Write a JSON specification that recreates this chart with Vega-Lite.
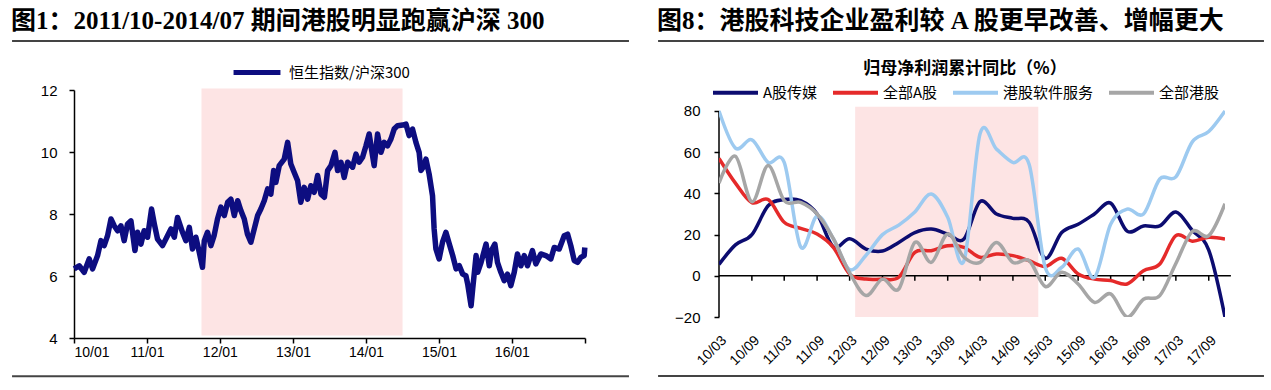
{
  "$schema": "https://vega.github.io/schema/vega-lite/v6.json",
  "background": "white",
  "padding": {"left": 11, "right": 10, "top": 8, "bottom": 12},
  "spacing": 27,
  "resolve": {"scale": {"color": "independent"}, "legend": {"color": "independent"}},
  "config": {
    "view": {"stroke": null},
    "axis": {"labelFont": "Liberation Sans", "labelFontSize": 14, "labelColor": "#000", "domainColor": "#000", "tickColor": "#000", "domainWidth": 1.5, "tickWidth": 1.5, "tickSize": 5, "grid": false, "labelOverlap": false},
    "axisX": {"labelOverlap": false},
    "title": {"font": "Liberation Serif, Noto Sans CJK SC", "fontSize": 25, "fontWeight": "bold", "color": "#000", "anchor": "start", "offset": 6}
  },
  "datasets": {
    "hs": [
      {"d":"2010-01-02","v":6.23},{"d":"2010-01-27","v":6.33},{"d":"2010-02-21","v":6.12},{"d":"2010-03-18","v":6.55},{"d":"2010-04-04","v":6.23},{"d":"2010-04-29","v":6.66},{"d":"2010-05-16","v":7.14},{"d":"2010-06-01","v":6.98},{"d":"2010-06-18","v":7.3},{"d":"2010-07-05","v":7.84},{"d":"2010-07-21","v":7.62},{"d":"2010-08-07","v":7.46},{"d":"2010-08-24","v":7.62},{"d":"2010-09-09","v":7.14},{"d":"2010-09-26","v":7.68},{"d":"2010-10-13","v":7.78},{"d":"2010-11-02","v":6.82},{"d":"2010-11-15","v":7.41},{"d":"2010-12-02","v":7.03},{"d":"2010-12-18","v":7.46},
      {"d":"2011-01-04","v":7.25},{"d":"2011-01-24","v":8.16},{"d":"2011-02-07","v":7.68},{"d":"2011-02-23","v":7.19},{"d":"2011-03-20","v":6.98},{"d":"2011-04-14","v":7.3},{"d":"2011-05-01","v":7.52},{"d":"2011-05-18","v":7.25},{"d":"2011-06-03","v":7.89},{"d":"2011-06-28","v":7.41},{"d":"2011-07-15","v":7.14},{"d":"2011-08-01","v":7.57},{"d":"2011-08-17","v":6.87},{"d":"2011-09-03","v":7.25},{"d":"2011-09-20","v":6.76},{"d":"2011-10-06","v":6.28},{"d":"2011-10-15","v":7.14},{"d":"2011-10-31","v":7.41},{"d":"2011-11-17","v":6.98},{"d":"2011-12-03","v":7.3},{"d":"2011-12-20","v":7.84},
      {"d":"2012-01-06","v":8.22},{"d":"2012-01-23","v":7.95},{"d":"2012-02-09","v":8.38},{"d":"2012-02-25","v":8.48},{"d":"2012-03-13","v":7.95},{"d":"2012-03-30","v":8.43},{"d":"2012-04-15","v":8.11},{"d":"2012-05-02","v":7.84},{"d":"2012-05-18","v":7.35},{"d":"2012-06-04","v":7.09},{"d":"2012-06-21","v":7.52},{"d":"2012-07-08","v":7.95},{"d":"2012-07-24","v":8.16},{"d":"2012-08-10","v":8.43},{"d":"2012-08-27","v":8.81},{"d":"2012-09-12","v":8.64},{"d":"2012-09-26","v":9.4},{"d":"2012-10-07","v":9.02},{"d":"2012-10-24","v":9.56},{"d":"2012-11-18","v":9.77},{"d":"2012-12-05","v":10.31},{"d":"2012-12-21","v":9.61},
      {"d":"2013-01-07","v":9.34},{"d":"2013-01-24","v":9.07},{"d":"2013-02-09","v":8.38},{"d":"2013-02-26","v":8.86},{"d":"2013-03-15","v":8.48},{"d":"2013-03-31","v":8.91},{"d":"2013-04-17","v":8.7},{"d":"2013-05-04","v":9.24},{"d":"2013-05-21","v":8.64},{"d":"2013-06-07","v":8.54},{"d":"2013-06-23","v":9.4},{"d":"2013-07-10","v":9.56},{"d":"2013-07-30","v":9.99},{"d":"2013-08-12","v":9.4},{"d":"2013-08-29","v":9.67},{"d":"2013-09-14","v":9.18},{"d":"2013-10-01","v":9.67},{"d":"2013-10-26","v":9.51},{"d":"2013-11-12","v":9.93},{"d":"2013-11-28","v":9.67},{"d":"2013-12-15","v":9.83},
      {"d":"2014-01-01","v":10.2},{"d":"2014-01-17","v":10.58},{"d":"2014-02-03","v":9.88},{"d":"2014-02-11","v":9.56},{"d":"2014-02-28","v":10.58},{"d":"2014-03-17","v":9.99},{"d":"2014-04-02","v":10.31},{"d":"2014-04-19","v":10.2},{"d":"2014-05-06","v":10.42},{"d":"2014-05-22","v":10.74},{"d":"2014-06-08","v":10.85},{"d":"2014-07-03","v":10.87},{"d":"2014-07-20","v":10.9},{"d":"2014-08-05","v":10.53},{"d":"2014-08-22","v":10.74},{"d":"2014-09-08","v":10.31},{"d":"2014-09-24","v":9.99},{"d":"2014-10-03","v":9.4},{"d":"2014-10-19","v":9.56},{"d":"2014-10-28","v":9.77},{"d":"2014-11-13","v":9.29},{"d":"2014-11-30","v":8.59},{"d":"2014-12-08","v":7.52},{"d":"2014-12-17","v":6.87},
      {"d":"2015-01-02","v":6.55},{"d":"2015-01-19","v":7.09},{"d":"2015-02-05","v":7.41},{"d":"2015-02-22","v":7.03},{"d":"2015-03-11","v":6.66},{"d":"2015-03-28","v":6.23},{"d":"2015-04-13","v":6.33},{"d":"2015-04-30","v":6.06},{"d":"2015-05-16","v":6.01},{"d":"2015-05-25","v":5.74},{"d":"2015-06-11","v":5.04},{"d":"2015-06-19","v":5.58},{"d":"2015-07-06","v":6.66},{"d":"2015-07-14","v":6.12},{"d":"2015-07-31","v":6.44},{"d":"2015-08-25","v":7.03},{"d":"2015-09-10","v":6.33},{"d":"2015-09-21","v":6.82},{"d":"2015-10-08","v":7.03},{"d":"2015-10-21","v":6.44},{"d":"2015-11-07","v":6.12},{"d":"2015-11-24","v":5.85},{"d":"2015-12-10","v":6.06},{"d":"2015-12-27","v":5.69},
      {"d":"2016-01-13","v":6.12},{"d":"2016-01-29","v":6.71},{"d":"2016-02-15","v":6.33},{"d":"2016-03-03","v":6.66},{"d":"2016-03-19","v":6.33},{"d":"2016-04-13","v":6.82},{"d":"2016-04-30","v":6.39},{"d":"2016-05-25","v":6.71},{"d":"2016-06-19","v":6.66},{"d":"2016-07-14","v":6.55},{"d":"2016-07-31","v":6.92},{"d":"2016-08-25","v":6.87},{"d":"2016-09-19","v":7.3},{"d":"2016-10-06","v":7.35},{"d":"2016-10-22","v":6.98},{"d":"2016-11-08","v":6.5},{"d":"2016-11-25","v":6.44},{"d":"2016-12-11","v":6.6},{"d":"2016-12-28","v":6.66},{"d":"2016-12-31","v":6.92}
    ],
    "rows": [
      {"q":"2010-03-01","A股传媒":5.5,"全部A股":57,"港股软件服务":80,"全部港股":45},
      {"q":"2010-06-01","A股传媒":15,"全部A股":45,"港股软件服务":62,"全部港股":58},
      {"q":"2010-09-01","A股传媒":20,"全部A股":35.5,"港股软件服务":66,"全部港股":36},
      {"q":"2010-12-01","A股传媒":34,"全部A股":37,"港股软件服务":55,"全部港股":53.5},
      {"q":"2011-03-01","A股传媒":37,"全部A股":26,"港股软件服务":55,"全部港股":36.5},
      {"q":"2011-06-01","A股传媒":36.5,"全部A股":23,"港股软件服务":14,"全部港股":35.6},
      {"q":"2011-09-01","A股传媒":30,"全部A股":20.3,"港股软件服务":29,"全部港股":30},
      {"q":"2011-12-01","A股传媒":14,"全部A股":13.8,"港股软件服务":18,"全部港股":18},
      {"q":"2012-03-01","A股传媒":18,"全部A股":0.9,"港股软件服务":3,"全部港股":1.5},
      {"q":"2012-06-01","A股传媒":13,"全部A股":-1.6,"港股软件服务":10,"全部港股":-9.6},
      {"q":"2012-09-01","A股传媒":12,"全部A股":-1.6,"港股软件服务":20,"全部港股":-1.6},
      {"q":"2012-12-01","A股传媒":16.2,"全部A股":-0.7,"港股软件服务":24.6,"全部港股":-6.4},
      {"q":"2013-03-01","A股传媒":21,"全部A股":11.4,"港股软件服务":31,"全部港股":16.2},
      {"q":"2013-06-01","A股传媒":22.7,"全部A股":12.2,"港股软件服务":39.7,"全部港股":6.5},
      {"q":"2013-09-01","A股传媒":20.3,"全部A股":14.6,"港股软件服务":28.4,"全部港股":20.3},
      {"q":"2013-12-01","A股传媒":17.9,"全部A股":13.8,"港股软件服务":7.3,"全部港股":9},
      {"q":"2014-03-01","A股传媒":36,"全部A股":9,"港股软件服务":69,"全部港股":6.5},
      {"q":"2014-06-01","A股传媒":30,"全部A股":10.6,"港股软件服务":61.5,"全部港股":16.2},
      {"q":"2014-09-01","A股传媒":27.9,"全部A股":9.8,"港股软件服务":55,"全部港股":6.5},
      {"q":"2014-12-01","A股传媒":26,"全部A股":7.3,"港股软件服务":54,"全部港股":7.3},
      {"q":"2015-03-01","A股传媒":8.5,"全部A股":4.5,"港股软件服务":4,"全部港股":-5.2},
      {"q":"2015-06-01","A股传媒":21,"全部A股":8.5,"港股软件服务":4.1,"全部港股":1.7},
      {"q":"2015-09-01","A股传媒":25,"全部A股":0.9,"港股软件服务":13,"全部港股":-4},
      {"q":"2015-12-01","A股传媒":30,"全部A股":-1.6,"港股软件服务":-0.8,"全部港股":-12.9},
      {"q":"2016-03-01","A股传媒":35.3,"全部A股":-2.3,"港股软件服务":25,"全部港股":-8.8},
      {"q":"2016-06-01","A股传媒":21.7,"全部A股":-4,"港股软件服务":32.4,"全部港股":-20},
      {"q":"2016-09-01","A股传媒":24.2,"全部A股":2.5,"港股软件服务":30,"全部港股":-11.4},
      {"q":"2016-12-01","A股传媒":24.2,"全部A股":5.7,"港股软件服务":47,"全部港股":-9.6},
      {"q":"2017-03-01","A股传媒":31,"全部A股":19.5,"港股软件服务":48,"全部港股":6},
      {"q":"2017-06-01","A股传媒":22,"全部A股":16.8,"港股软件服务":65,"全部港股":21.5},
      {"q":"2017-09-01","A股传媒":12.5,"全部A股":18.7,"港股软件服务":70,"全部港股":19.5},
      {"q":"2017-12-01","A股传媒":-20,"全部A股":17.9,"港股软件服务":80,"全部港股":35}
    ],
    "ticks": [
      {"q":"2010-09-01"},{"q":"2011-03-01"},{"q":"2011-09-01"},{"q":"2012-03-01"},{"q":"2012-09-01"},{"q":"2013-03-01"},{"q":"2013-09-01"},{"q":"2014-03-01"},{"q":"2014-09-01"},{"q":"2015-03-01"},{"q":"2015-09-01"},{"q":"2016-03-01"},{"q":"2016-09-01"},{"q":"2017-03-01"},{"q":"2017-09-01"}
    ]
  },
  "hconcat": [
    {
      "width": 511,
      "height": 248,
      "title": {"text": "图1：2011/10-2014/07 期间港股明显跑赢沪深 300"},
      "encoding": {
        "x": {"field": "d", "type": "temporal", "title": null,
          "scale": {"type": "utc", "domain": [{"year": 2010, "month": 1, "date": 1, "utc": true}, {"year": 2017, "month": 1, "date": 1, "utc": true}]},
          "axis": {"values": [{"year": 2010, "month": 1, "date": 1, "utc": true}, {"year": 2011, "month": 1, "date": 1, "utc": true}, {"year": 2012, "month": 1, "date": 1, "utc": true}, {"year": 2013, "month": 1, "date": 1, "utc": true}, {"year": 2014, "month": 1, "date": 1, "utc": true}, {"year": 2015, "month": 1, "date": 1, "utc": true}, {"year": 2016, "month": 1, "date": 1, "utc": true}, {"year": 2017, "month": 1, "date": 1, "utc": true}],
            "labelExpr": "utcyear(datum.value) == 2017 ? '' : utcFormat(datum.value, '%y/%m')", "labelPadding": 2, "labelFontSize": 14, "labelOverlap": false}}
      },
      "layer": [
        {
          "data": {"values": [{"d": "2011-10-01", "e": "2014-07-03"}]},
          "mark": {"type": "rect", "color": "#fde4e4"},
          "encoding": {
            "x2": {"field": "e"},
            "y": {"datum": 4.08, "type": "quantitative", "scale": {"domain": [4, 12], "nice": false, "zero": false}, "title": null},
            "y2": {"datum": 12.05}
          }
        },
        {
          "data": {"name": "hs"},
          "mark": {"type": "line", "strokeWidth": 5.5, "strokeJoin": "round"},
          "encoding": {
            "y": {"field": "v", "type": "quantitative", "scale": {"domain": [4, 12], "nice": false, "zero": false}, "title": null,
              "axis": {"values": [4, 6, 8, 10, 12], "labelPadding": 12, "labelFontSize": 15}},
            "color": {"datum": "恒生指数/沪深300", "type": "nominal", "scale": {"range": ["#0d0d80"]},
              "legend": {"orient": "none", "legendX": 157, "legendY": -43.5, "direction": "horizontal", "title": null, "symbolType": "stroke", "symbolStrokeWidth": 5, "symbolSize": 2200, "labelFont": "Noto Sans CJK SC", "labelFontSize": 15, "labelColor": "#000", "padding": 0, "labelOffset": 6}}
          }
        },
        {
          "data": {"values": [{"d": "2009-02-25", "e": "2017-08-09"}]},
          "mark": {"type": "rule", "clip": false, "color": "#444", "strokeWidth": 2},
          "encoding": {"x2": {"field": "e"}, "y": {"datum": 13.58, "type": "quantitative"}}
        },
        {
          "data": {"values": [{"d": "2009-02-25", "e": "2017-08-09"}]},
          "mark": {"type": "rule", "clip": false, "color": "#444", "strokeWidth": 2},
          "encoding": {"x2": {"field": "e"}, "y": {"datum": 2.77, "type": "quantitative"}}
        }
      ]
    },
    {
      "width": 506,
      "height": 227,
      "title": {"text": "图8：港股科技企业盈利较 A 股更早改善、增幅更大"},
      "encoding": {
        "x": {"field": "q", "type": "temporal", "title": null,
          "scale": {"type": "utc", "domain": [{"year": 2010, "month": 3, "date": 1, "utc": true}, {"year": 2017, "month": 12, "date": 1, "utc": true}]},
          "axis": {"values": [{"year": 2010, "month": 3, "date": 1, "utc": true}, {"year": 2010, "month": 9, "date": 1, "utc": true}, {"year": 2011, "month": 3, "date": 1, "utc": true}, {"year": 2011, "month": 9, "date": 1, "utc": true}, {"year": 2012, "month": 3, "date": 1, "utc": true}, {"year": 2012, "month": 9, "date": 1, "utc": true}, {"year": 2013, "month": 3, "date": 1, "utc": true}, {"year": 2013, "month": 9, "date": 1, "utc": true}, {"year": 2014, "month": 3, "date": 1, "utc": true}, {"year": 2014, "month": 9, "date": 1, "utc": true}, {"year": 2015, "month": 3, "date": 1, "utc": true}, {"year": 2015, "month": 9, "date": 1, "utc": true}, {"year": 2016, "month": 3, "date": 1, "utc": true}, {"year": 2016, "month": 9, "date": 1, "utc": true}, {"year": 2017, "month": 3, "date": 1, "utc": true}, {"year": 2017, "month": 9, "date": 1, "utc": true}],
            "labelExpr": "utcFormat(datum.value, '%y/%m')", "labelAngle": -45, "domain": false, "ticks": false, "labelPadding": 16, "labelFontSize": 14, "labelOverlap": false}}
      },
      "layer": [
        {
          "data": {"values": [{"q": "2012-04-01", "e": "2015-01-21"}]},
          "mark": {"type": "rect", "color": "#fde4e4"},
          "encoding": {
            "x2": {"field": "e"},
            "y": {"datum": -20, "type": "quantitative", "scale": {"domain": [-20, 90.19], "nice": false, "zero": false}, "title": null},
            "y2": {"datum": 82}
          }
        },
        {
          "data": {"values": [{"q": "2010-03-01", "e": "2018-01-03"}]},
          "mark": {"type": "rule", "clip": false, "color": "#000", "strokeWidth": 1.5},
          "encoding": {"x2": {"field": "e"}, "y": {"datum": 0, "type": "quantitative"}}
        },
        {
          "data": {"name": "ticks"},
          "mark": {"type": "rule", "clip": false, "color": "#000", "strokeWidth": 1.5},
          "encoding": {"y": {"datum": 0, "type": "quantitative"}, "y2": {"datum": -2.4}}
        },
        {
          "data": {"values": [{"q": "2010-03-01"}]},
          "mark": {"type": "rule", "clip": false, "color": "#000", "strokeWidth": 1.5},
          "encoding": {"y": {"datum": -20, "type": "quantitative"}, "y2": {"datum": 80}}
        },
        {
          "data": {"name": "rows"},
          "transform": [{"fold": ["A股传媒", "全部A股", "港股软件服务", "全部港股"], "as": ["s", "v"]}],
          "mark": {"type": "line", "strokeWidth": 3.5, "interpolate": "cardinal", "clip": true},
          "encoding": {
            "y": {"field": "v", "type": "quantitative", "scale": {"domain": [-20, 90.19], "nice": false, "zero": false}, "title": null,
              "axis": {"values": [-20, 0, 20, 40, 60, 80], "domain": false, "labelPadding": 14, "labelFontSize": 15}},
            "color": {"field": "s", "type": "nominal",
              "scale": {"domain": ["A股传媒", "全部A股", "港股软件服务", "全部港股"], "range": ["#0c0c70", "#e52a2a", "#9dcaf0", "#a6a6a6"]},
              "legend": {"orient": "none", "legendX": -8, "legendY": -29, "direction": "horizontal", "title": "归母净利润累计同比（%）", "titleFont": "Noto Sans CJK SC", "titleFontSize": 17, "titleFontWeight": "bold", "titleColor": "#000", "titleAnchor": "middle", "titleLimit": 600, "titlePadding": -10, "symbolType": "stroke", "symbolStrokeWidth": 4, "symbolSize": 2025, "labelFont": "Noto Sans CJK SC", "labelFontSize": 15, "labelColor": "#000", "columnPadding": 7, "labelOffset": 3, "padding": 0}}
          }
        },
        {
          "data": {"values": [{"q": "2009-03-25", "e": "2018-07-07"}]},
          "mark": {"type": "rule", "clip": false, "color": "#444", "strokeWidth": 2},
          "encoding": {"x2": {"field": "e"}, "y": {"datum": 113.98, "type": "quantitative"}}
        },
        {
          "data": {"values": [{"q": "2009-03-25", "e": "2018-07-07"}]},
          "mark": {"type": "rule", "clip": false, "color": "#444", "strokeWidth": 2},
          "encoding": {"x2": {"field": "e"}, "y": {"datum": -48.64, "type": "quantitative"}}
        }
      ]
    }
  ]
}
